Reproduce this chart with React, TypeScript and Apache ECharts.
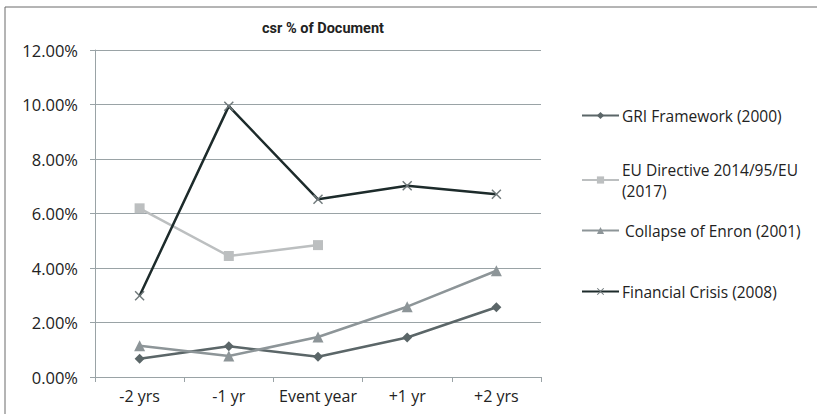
import React, { useEffect, useRef } from "react";
import * as echarts from "echarts";

const categories = ["-2 yrs", "-1 yr", "Event year", "+1 yr", "+2 yrs"];
const griValues = [0.67, 1.13, 0.74, 1.45, 2.56];
const euValues: (number | null)[] = [6.19, 4.44, 4.84, null, null];
const enronValues = [1.15, 0.77, 1.47, 2.58, 3.9];
const crisisValues = [2.98, 9.94, 6.52, 7.02, 6.71];
const yTicks = { min: 0, max: 12, interval: 2 };

const FONT = "'Open Sans', 'Noto Sans', sans-serif";
const crossPath =
  "path://M0,1L1,0L5,4L9,0L10,1L6,5L10,9L9,10L5,6L1,10L0,9L4,5Z";

export default function App() {
  const ref = useRef<HTMLDivElement>(null);
  useEffect(() => {
    const chart = echarts.init(ref.current!, undefined, { renderer: "svg" });
    const legendText = { fontFamily: FONT, fontSize: 15.5, color: "#222", lineHeight: 21 };
    const mkLegend = (name: string, top: number, textPad = 0) => ({
      data: [name],
      left: 576,
      top,
      orient: "vertical",
      itemWidth: 37,
      itemHeight: 9,
      itemGap: 0,
      textStyle: { ...legendText, padding: [0, 0, 0, textPad - 2] },
      selectedMode: false,
    });
    chart.setOption({
      animation: false,
      backgroundColor: "#fff",
      title: {
        text: "csr % of Document",
        left: 318,
        textAlign: "center",
        top: 16,
        textStyle: {
          fontFamily: "Roboto, sans-serif",
          fontWeight: "bold",
          fontSize: 14.5,
          color: "#222",
        },
      },
      graphic: [
        {
          type: "rect",
          shape: { x: 5, y: 7, width: 900, height: 500 },
          style: { fill: "none", stroke: "#6a6a6a", lineWidth: 1 },
          silent: true,
        },
      ],
      legend: [
        mkLegend("GRI Framework (2000)", 100),
        mkLegend("EU Directive 2014/95/EU\n(2017)", 154),
        mkLegend("Collapse of Enron (2001)", 215, 3),
        mkLegend("Financial Crisis (2008)", 276),
      ],
      grid: { left: 95, right: 276, top: 50, bottom: 37, containLabel: false },
      xAxis: {
        type: "category",
        data: categories,
        boundaryGap: true,
        axisLine: { lineStyle: { color: "#9aa3a6", width: 1 } },
        axisTick: { show: true, length: 5, lineStyle: { color: "#9aa3a6" } },
        axisLabel: { fontFamily: FONT, fontSize: 16, color: "#222", margin: 11, interval: 0 },
      },
      yAxis: {
        type: "value",
        min: yTicks.min,
        max: yTicks.max,
        interval: yTicks.interval,
        axisLine: { show: true, lineStyle: { color: "#9aa3a6", width: 1 } },
        axisTick: { show: true, length: 5, lineStyle: { color: "#9aa3a6" } },
        splitLine: { lineStyle: { color: "#9aa3a6", width: 1 } },
        axisLabel: {
          fontFamily: FONT,
          fontSize: 16.5,
          color: "#222",
          margin: 17,
          formatter: (v: number) => v.toFixed(2) + "%",
        },
      },
      series: [
        {
          name: "GRI Framework (2000)",
          type: "line",
          data: griValues,
          symbol: "diamond",
          symbolSize: 10,
          lineStyle: { color: "#5b6668", width: 2.5 },
          itemStyle: { color: "#5b6668" },
        },
        {
          name: "EU Directive 2014/95/EU\n(2017)",
          type: "line",
          data: euValues,
          symbol: "rect",
          symbolSize: 10,
          lineStyle: { color: "#bcbfc0", width: 2.5 },
          itemStyle: { color: "#bcbfc0" },
        },
        {
          name: "Collapse of Enron (2001)",
          type: "line",
          data: enronValues,
          symbol: "triangle",
          symbolSize: 11,
          lineStyle: { color: "#8d9598", width: 2.5 },
          itemStyle: { color: "#8d9598" },
        },
        {
          name: "Financial Crisis (2008)",
          type: "line",
          data: crisisValues,
          symbol: crossPath,
          symbolSize: 10,
          lineStyle: { color: "#1d2b2b", width: 2.5 },
          itemStyle: { color: "#6f787a" },
        },
      ],
    });
    return () => chart.dispose();
  }, []);
  return (
    <div
      ref={ref}
      style={{ position: "fixed", left: 0, top: 0, width: 817, height: 414 }}
    />
  );
}
